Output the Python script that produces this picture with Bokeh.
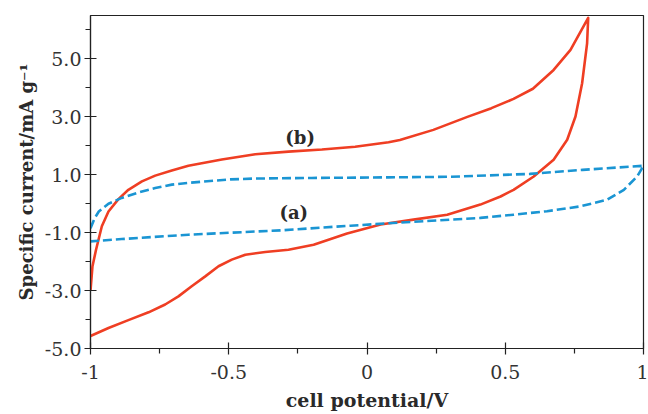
from bokeh.plotting import figure
from bokeh.models import FixedTicker, ColumnDataSource
from bokeh.core.properties import value
from bokeh.embed import file_html
from bokeh.resources import INLINE

# (b) curve, forward sweep (-1 -> 0.8 V)
b_fwd_x = [-1.0, -0.993, -0.98, -0.959, -0.935, -0.899, -0.863, -0.814, -0.766, -0.706,
           -0.646, -0.525, -0.404, -0.284, -0.163, -0.043, 0.078, 0.119, 0.24, 0.363,
           0.45, 0.53, 0.60, 0.675, 0.736, 0.80]
b_fwd_y = [-3.0, -2.17, -1.59, -0.78, -0.27, 0.16, 0.48, 0.77, 0.97, 1.15,
           1.31, 1.53, 1.71, 1.80, 1.87, 1.97, 2.12, 2.2, 2.55, 3.0,
           3.3, 3.62, 3.97, 4.62, 5.31, 6.42]
# (b) curve, reverse sweep (0.8 -> -1 V)
b_rev_x = [0.80, 0.796, 0.778, 0.754, 0.724, 0.675, 0.603, 0.53, 0.483, 0.41, 0.29,
           0.168, 0.049, -0.072, -0.193, -0.284, -0.368, -0.44, -0.489, -0.537, -0.585,
           -0.634, -0.682, -0.73, -0.79, -0.863, -0.935, -1.0]
b_rev_y = [6.42, 5.54, 4.16, 3.01, 2.21, 1.52, 0.94, 0.48, 0.25, -0.03, -0.38,
           -0.55, -0.72, -1.03, -1.42, -1.59, -1.67, -1.76, -1.93, -2.16, -2.51,
           -2.85, -3.2, -3.48, -3.75, -4.02, -4.29, -4.57]

# (a) curve, forward sweep (-1 -> 1 V)
a_fwd_x = [-1.0, -0.985, -0.97, -0.935, -0.887, -0.826, -0.766, -0.706, -0.646, -0.494,
           -0.404, -0.2, 0.078, 0.30, 0.59, 0.78, 1.0]
a_fwd_y = [-0.85, -0.5, -0.27, 0.0, 0.2, 0.39, 0.54, 0.66, 0.72, 0.84,
           0.87, 0.89, 0.91, 0.93, 1.03, 1.17, 1.31]
# (a) curve, reverse sweep (1 -> -1 V)
a_rev_x = [1.0, 0.977, 0.929, 0.869, 0.772, 0.651, 0.53, 0.41, 0.30, 0.12, -0.06,
           -0.313, -0.646, -0.887, -1.0]
a_rev_y = [1.31, 0.94, 0.48, 0.14, -0.09, -0.26, -0.38, -0.49, -0.55, -0.65, -0.76,
           -0.92, -1.07, -1.22, -1.3]

x_ticks = [-1, -0.5, 0, 0.5, 1]
x_tick_labels = ["-1", "-0.5", "0", "0.5", "1"]
x_minor = [-0.75, -0.25, 0.25, 0.75]
y_ticks = [-5, -3, -1, 1, 3, 5]
y_tick_labels = ["-5.0", "-3.0", "-1.0", "1.0", "3.0", "5.0"]
y_minor = [-4, -2, 0, 2, 4, 6]

labels = ["(b)", "(a)"]
label_x = [-0.242, -0.265]
label_y = [2.28, -0.32]

RED = "#ef3e23"
BLUE = "#1a95d3"
SERIF = "DejaVu Serif"

p = figure(width=648, height=414, output_backend="svg", toolbar_location=None,
           x_range=(-1, 1), y_range=(-5, 6.5),
           min_border_left=90, min_border_right=5, min_border_top=15, min_border_bottom=66)
p.background_fill_color = "white"
p.border_fill_color = "white"
p.outline_line_color = "#222222"
p.outline_line_width = 1.2
p.xgrid.visible = False
p.ygrid.visible = False

p.line(b_fwd_x + b_rev_x, b_fwd_y + b_rev_y, line_color=RED, line_width=2.6,
       line_join="round")
p.line(a_fwd_x + a_rev_x, a_fwd_y + a_rev_y, line_color=BLUE, line_width=2.6,
       line_dash="9 4", line_join="round")

src = ColumnDataSource(dict(x=label_x, y=label_y, t=labels))
p.text("x", "y", text="t", source=src, text_align="center", text_baseline="middle",
       text_font=value(SERIF), text_font_style="bold", text_font_size="18px",
       text_color="#2a2a2a")

for ax in (p.xaxis[0], p.yaxis[0]):
    ax.axis_line_color = "#222222"
    ax.axis_line_width = 1.2
    ax.major_tick_line_color = "#222222"
    ax.minor_tick_line_color = "#222222"
    ax.major_tick_line_width = 1.2
    ax.minor_tick_line_width = 1.2
    ax.major_tick_in = 6
    ax.major_tick_out = 6
    ax.minor_tick_in = 0
    ax.minor_tick_out = 5
    ax.major_label_text_font = SERIF
    ax.major_label_text_font_size = "19px"
    ax.major_label_text_color = "#333333"
    ax.axis_label_text_font = SERIF
    ax.axis_label_text_font_style = "bold"
    ax.axis_label_text_color = "#2a2a2a"

p.xaxis.ticker = FixedTicker(ticks=x_ticks, minor_ticks=x_minor)
p.xaxis.major_label_overrides = {t: l for t, l in zip(x_ticks, x_tick_labels)}
p.xaxis.axis_label = "cell potential/V"
p.xaxis.axis_label_text_font_size = "19px"
p.xaxis.major_label_standoff = 10
p.xaxis.axis_label_standoff = 7

p.yaxis.ticker = FixedTicker(ticks=y_ticks, minor_ticks=y_minor)
p.yaxis.major_label_overrides = {t: l for t, l in zip(y_ticks, y_tick_labels)}
p.yaxis.axis_label = "Specific current/mA g\u207b\u00b9"
p.yaxis.axis_label_text_font_size = "18px"
p.yaxis.major_label_standoff = 3
p.yaxis.axis_label_standoff = 5

open("out.html", "w").write(file_html(p, INLINE))
